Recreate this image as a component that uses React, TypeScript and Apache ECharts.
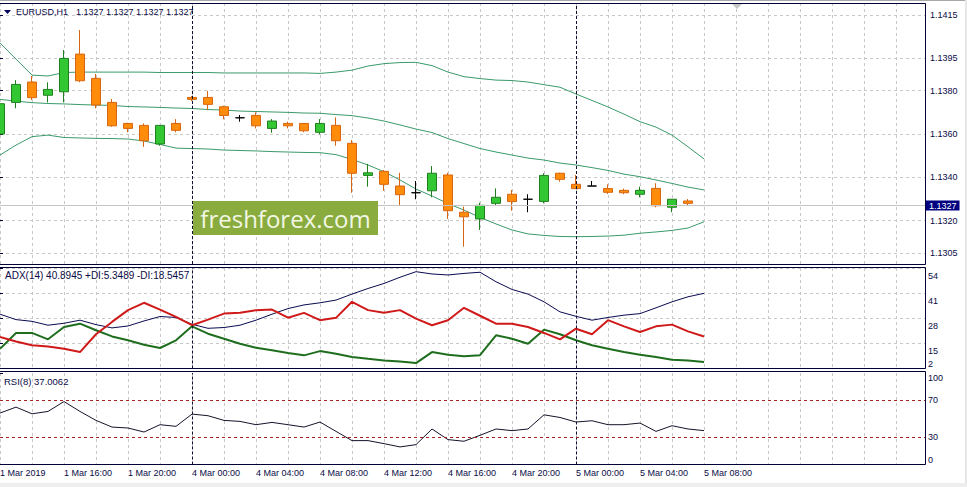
import React, { useEffect, useRef } from 'react';
import * as echarts from 'echarts';

// ---- time axis (one label every 4 hourly bars, bar index = 4 * k) ----
const timeLabels = [
  '1 Mar 2019', '1 Mar 16:00', '1 Mar 20:00', '4 Mar 00:00', '4 Mar 04:00', '4 Mar 08:00',
  '4 Mar 12:00', '4 Mar 16:00', '4 Mar 20:00', '5 Mar 00:00', '5 Mar 04:00', '5 Mar 08:00',
];
const daySeparators = [12, 36];

// ---- EURUSD H1 candles ----
const opens = [
  1.1360, 1.13746, 1.1384, 1.13779, 1.13795, 1.13969, 1.13857, 1.13746, 1.13649, 1.1364,
  1.13554, 1.13649, 1.13769, 1.13769, 1.13726, 1.13675, 1.13686, 1.13626, 1.13649, 1.13649,
  1.13608, 1.1364, 1.13557, 1.13409, 1.13428, 1.1336, 1.13329, 1.13338, 1.13411, 1.13239,
  1.13208, 1.1328, 1.13322, 1.13299, 1.13289, 1.13419, 1.13368, 1.1336, 1.13348, 1.1334,
  1.13322, 1.13349, 1.13262, 1.13291, 1.1327,
];
const closes = [
  1.1374, 1.13829, 1.13768, 1.13806, 1.13949, 1.13846, 1.13734, 1.13638, 1.13626, 1.13569,
  1.1364, 1.13617, 1.1376, 1.13737, 1.13686, 1.13675, 1.13638, 1.1366, 1.13638, 1.13615,
  1.13649, 1.13569, 1.13419, 1.13421, 1.13368, 1.1332, 1.13329, 1.13419, 1.13246, 1.13218,
  1.13271, 1.13308, 1.13288, 1.13299, 1.13409, 1.13391, 1.13348, 1.1336, 1.13331, 1.13329,
  1.1334, 1.13269, 1.13299, 1.1328, 1.1327,
];
const highs = [
  1.1376, 1.13849, 1.13868, 1.13839, 1.13988, 1.1408, 1.13877, 1.13762, 1.13652, 1.13649,
  1.13642, 1.13669, 1.13775, 1.13799, 1.13731, 1.13688, 1.137, 1.13669, 1.13657, 1.13651,
  1.13669, 1.13677, 1.13572, 1.13462, 1.13434, 1.13421, 1.13383, 1.13452, 1.13421, 1.13265,
  1.13283, 1.13349, 1.13342, 1.13322, 1.13419, 1.13422, 1.13411, 1.13383, 1.13368, 1.13348,
  1.13357, 1.13373, 1.133, 1.133, 1.1327,
];
const lows = [
  1.1354, 1.13719, 1.13757, 1.13746, 1.13746, 1.13839, 1.13719, 1.13634, 1.13608, 1.13541,
  1.13546, 1.13608, 1.13752, 1.13711, 1.13668, 1.13657, 1.13626, 1.13606, 1.13626, 1.13608,
  1.13599, 1.13546, 1.13329, 1.13357, 1.13338, 1.13269, 1.13299, 1.13308, 1.13208, 1.1308,
  1.13157, 1.13269, 1.13246, 1.13239, 1.1328, 1.1338, 1.13346, 1.1336, 1.13323, 1.13322,
  1.13308, 1.13262, 1.13239, 1.13269, 1.1327,
];

// ---- Bollinger bands ----
const bbUpper = [
  1.1402, 1.13946, 1.13872, 1.13868, 1.13884, 1.13886, 1.13886, 1.13886, 1.13886, 1.13886,
  1.13884, 1.13884, 1.13884, 1.13884, 1.13882, 1.13882, 1.13882, 1.13882, 1.13882, 1.13882,
  1.1388, 1.13886, 1.13895, 1.13914, 1.13925, 1.1393, 1.13931, 1.13916, 1.13886, 1.13865,
  1.13856, 1.13849, 1.13847, 1.1384, 1.13828, 1.13816, 1.13785, 1.13755, 1.13725, 1.13692,
  1.13657, 1.13632, 1.13595, 1.13541, 1.13485,
];
const bbMiddle = [
  1.1376, 1.13752, 1.13745, 1.13741, 1.13739, 1.13736, 1.13734, 1.13732, 1.13727, 1.13725,
  1.13723, 1.1372, 1.13718, 1.13713, 1.13711, 1.13706, 1.13704, 1.13702, 1.137, 1.13697,
  1.13696, 1.1369, 1.13685, 1.13674, 1.1366, 1.13642, 1.13623, 1.13607, 1.13579, 1.13556,
  1.13533, 1.13517, 1.13503, 1.13489, 1.1348, 1.13466, 1.13457, 1.13445, 1.13432, 1.13415,
  1.13403, 1.13388, 1.13372, 1.13355, 1.13342,
];
const bbLower = [
  1.13503, 1.13549, 1.13588, 1.13595, 1.13584, 1.13582, 1.1358, 1.13579, 1.13577, 1.13568,
  1.13552, 1.13535, 1.13533, 1.13531, 1.13526, 1.13524, 1.13522, 1.13519, 1.13517, 1.13515,
  1.13514, 1.13505, 1.13483, 1.13457, 1.13426, 1.13388, 1.13346, 1.13314, 1.13279, 1.13249,
  1.13215, 1.13185, 1.13157, 1.13139, 1.13132, 1.13127, 1.13126, 1.13127, 1.13129, 1.13133,
  1.13142, 1.13148, 1.13155, 1.13166, 1.13195,
];

// ---- ADX(14) ----
const adx = [
  30.1, 27.3, 26.4, 24.4, 25.4, 27.0, 24.7, 23.0, 24.0, 26.6,
  28.9, 28.4, 24.9, 22.8, 23.2, 24.4, 27.0, 30.1, 33.0, 34.9,
  36.0, 37.4, 40.5, 43.4, 46.0, 49.2, 52.1, 50.9, 50.4, 51.2,
  51.8, 46.9, 42.9, 40.5, 36.5, 31.3, 29.0, 27.0, 28.4, 29.6,
  30.4, 33.4, 36.5, 39.1, 40.8945,
];
const plusDI = [
  12.2, 20.4, 20.4, 17.1, 23.5, 25.2, 21.8, 18.6, 16.6, 14.3,
  12.6, 16.6, 23.8, 20.0, 17.4, 14.8, 12.7, 11.4, 10.0, 8.8,
  11.0, 9.6, 7.9, 7.0, 6.2, 5.6, 4.8, 10.5, 9.1, 8.4,
  8.9, 19.2, 17.4, 14.8, 22.1, 19.7, 16.6, 14.0, 12.2, 10.5,
  9.1, 7.9, 6.5, 6.2, 5.3489,
];
const minusDI = [
  18.3, 16.0, 14.0, 13.4, 12.2, 10.5, 19.7, 26.1, 32.2, 36.0,
  32.5, 28.7, 24.4, 27.3, 30.4, 30.8, 32.2, 32.5, 28.3, 30.8,
  27.0, 28.2, 36.5, 32.2, 30.8, 32.2, 27.8, 24.4, 27.0, 33.4,
  29.3, 25.2, 25.2, 23.5, 20.4, 17.1, 22.6, 19.7, 27.0, 23.8,
  20.9, 23.8, 24.7, 21.2, 18.5457,
];

// ---- RSI(8) ----
const rsi = [
  56.2, 62.7, 55.4, 58.0, 68.8, 58.0, 48.2, 40.9, 39.9, 35.5,
  43.5, 41.7, 55.1, 53.3, 48.2, 47.1, 43.5, 46.0, 43.5, 40.9,
  46.4, 36.2, 26.1, 26.1, 22.8, 19.2, 21.7, 38.8, 27.2, 25.4,
  31.9, 38.8, 37.0, 38.8, 54.3, 51.4, 46.4, 47.8, 43.5, 43.5,
  45.3, 36.2, 42.4, 38.8, 37.0062,
];
const rsiLevels = [70, 30];

// ---- axis ticks ----
const priceTicks = [1.1305, 1.132, 1.134, 1.136, 1.138, 1.1395, 1.1415];
const adxTicks = [2, 15, 28, 41, 54];
const rsiTicks = [0, 30, 70, 100];
const bidPrice = 1.1327;

const NAVY = '#0a0a46';
const FRAME = '#000036';
const GRID = '#c8c8c8';
const FONT = 'Liberation Sans, Arial, sans-serif';
const SEP = { color: '#101030', type: [3, 2] as number[], width: 1 };

export default function App() {
  const ref = useRef<HTMLDivElement>(null);

  useEffect(() => {
    if (!ref.current) return;
    const chart = echarts.init(ref.current, null, { renderer: 'svg' });

    const idx = (arr: number[]) => arr.map((v, i) => [i, v]);
    const candles = opens.map((o, i) => [i, o, closes[i], lows[i], highs[i]]);

    const xBase = (gi: number, withLabels: boolean) => ({
      type: 'value',
      gridIndex: gi,
      min: 0,
      max: 925 / 16,
      interval: 2,
      axisLine: { show: false },
      axisTick: { show: false },
      axisLabel: withLabels
        ? {
            show: true,
            formatter: (v: number) =>
              v % 4 === 0 && v / 4 < timeLabels.length ? timeLabels[v / 4] : '',
            align: 'left',
            margin: 4,
            color: NAVY,
            fontSize: 9,
            fontFamily: FONT,
          }
        : { show: false },
      splitLine: { show: true, lineStyle: { color: GRID, type: [3, 3], width: 1 } },
    });

    const labelBase = { color: NAVY, fontSize: 9, fontFamily: FONT };
    const sepLines = daySeparators.map((d) => ({ xAxis: d, lineStyle: SEP, label: { show: false } }));

    const option: any = {
      animation: false,
      backgroundColor: '#ffffff',
      grid: [
        { left: 0, right: 42, top: 3, height: 261, outerBoundsMode: 'none' },
        { left: 0, right: 42, top: 268, height: 100.5, outerBoundsMode: 'none' },
        { left: 0, right: 42, top: 373, height: 91.5, outerBoundsMode: 'none' },
      ],
      xAxis: [xBase(0, false), xBase(1, false), xBase(2, true)],
      yAxis: [
        {
          type: 'value',
          gridIndex: 0,
          position: 'right',
          min: 1.13,
          max: 1.14205,
          axisLine: { show: false },
          axisTick: { show: true, customValues: priceTicks, length: 3, lineStyle: { color: FRAME } },
          axisLabel: {
            customValues: priceTicks,
            formatter: (v: number) => v.toFixed(4),
            margin: 5,
            ...labelBase,
          },
          splitLine: { show: true, lineStyle: { color: GRID, type: [3, 3], width: 1 } },
        },
        {
          type: 'value',
          gridIndex: 1,
          position: 'right',
          min: 2,
          max: 54,
          axisLine: { show: false },
          axisTick: { show: true, customValues: adxTicks, length: 3, lineStyle: { color: FRAME } },
          axisLabel: {
            customValues: adxTicks,
            margin: 3,
            verticalAlign: 'top',
            verticalAlignMinLabel: 'bottom',
            padding: [3, 0, 0, 0],
            ...labelBase,
          },
          splitLine: { show: true, lineStyle: { color: GRID, type: [3, 3], width: 1 } },
        },
        {
          type: 'value',
          gridIndex: 2,
          position: 'right',
          min: 0,
          max: 100,
          axisLine: { show: false },
          axisTick: { show: true, customValues: rsiTicks, length: 3, lineStyle: { color: FRAME } },
          axisLabel: {
            customValues: rsiTicks,
            margin: 3,
            verticalAlign: 'middle',
            verticalAlignMinLabel: 'bottom',
            verticalAlignMaxLabel: 'top',
            ...labelBase,
          },
          splitLine: { show: false },
        },
      ],
      series: [
        {
          type: 'line',
          xAxisIndex: 0,
          yAxisIndex: 0,
          data: idx(bbUpper),
          symbol: 'none',
          lineStyle: { color: '#3a9a6a', width: 1 },
          z: 1,
          markLine: {
            silent: true,
            precision: 5,
            symbol: ['none', 'none'],
            data: [
              {
                yAxis: bidPrice,
                lineStyle: { color: '#c4c4c4', type: 'solid', width: 1 },
                label: {
                  show: true,
                  position: 'end',
                  distance: 1,
                  formatter: () => bidPrice.toFixed(4),
                  color: '#ffffff',
                  backgroundColor: '#000080',
                  padding: [1, 3, 0, 3],
                  fontSize: 9,
                  fontFamily: FONT,
                },
              },
            ],
          },
        },
        {
          type: 'line',
          xAxisIndex: 0,
          yAxisIndex: 0,
          data: idx(bbMiddle),
          symbol: 'none',
          lineStyle: { color: '#3a9a6a', width: 1 },
          z: 1,
        },
        {
          type: 'line',
          xAxisIndex: 0,
          yAxisIndex: 0,
          data: idx(bbLower),
          symbol: 'none',
          lineStyle: { color: '#3a9a6a', width: 1 },
          z: 1,
        },
        {
          type: 'candlestick',
          xAxisIndex: 0,
          yAxisIndex: 0,
          dimensions: ['idx', 'open', 'close', 'lowest', 'highest'],
          encode: { x: 0, y: [1, 2, 3, 4] },
          data: candles,
          barWidth: 9,
          z: 3,
          itemStyle: {
            color: '#33c833',
            color0: '#ff8c0a',
            borderColor: '#1f7f1f',
            borderColor0: '#d8650f',
            borderColorDoji: '#000000',
            borderWidth: 1,
          },
          markLine: {
            silent: true,
            symbol: ['none', 'none'],
            data: sepLines,
          },
        },
        {
          type: 'line',
          xAxisIndex: 1,
          yAxisIndex: 1,
          data: idx(adx),
          symbol: 'none',
          lineStyle: { color: '#0a0a50', width: 1 },
          markLine: { silent: true, symbol: ['none', 'none'], data: sepLines },
        },
        {
          type: 'line',
          xAxisIndex: 1,
          yAxisIndex: 1,
          data: idx(plusDI),
          symbol: 'none',
          lineStyle: { color: '#1e6e1e', width: 2 },
        },
        {
          type: 'line',
          xAxisIndex: 1,
          yAxisIndex: 1,
          data: idx(minusDI),
          symbol: 'none',
          lineStyle: { color: '#d01a1a', width: 2 },
        },
        {
          type: 'line',
          xAxisIndex: 2,
          yAxisIndex: 2,
          data: idx(rsi),
          symbol: 'none',
          lineStyle: { color: '#14142a', width: 1 },
          markLine: {
            silent: true,
            symbol: ['none', 'none'],
            data: [
              ...sepLines,
              ...rsiLevels.map((l) => ({
                yAxis: l,
                lineStyle: { color: '#a82020', type: [3, 3], width: 1 },
                label: { show: false },
              })),
            ],
          },
        },
      ],
      graphic: [
        // page edges
        { type: 'rect', z: 90, shape: { x: 0, y: 0, width: 967, height: 1 }, style: { fill: '#a8a8a8' } },
        { type: 'rect', z: 90, shape: { x: 965, y: 0, width: 2, height: 487 }, style: { fill: '#e6e6e6' } },
        { type: 'rect', z: 90, shape: { x: 0, y: 483, width: 967, height: 4 }, style: { fill: '#eeeeee' } },
        // panel frames
        { type: 'rect', z: 100, shape: { x: -3, y: 3.5, width: 928.5, height: 261 }, style: { fill: 'none', stroke: FRAME, lineWidth: 1 } },
        { type: 'rect', z: 100, shape: { x: -3, y: 267.5, width: 928.5, height: 101 }, style: { fill: 'none', stroke: FRAME, lineWidth: 1 } },
        { type: 'rect', z: 100, shape: { x: -3, y: 371.5, width: 928.5, height: 93 }, style: { fill: 'none', stroke: FRAME, lineWidth: 1 } },
        // chart shift marker
        { type: 'polygon', z: 100, shape: { points: [[732, 4], [742, 4], [737, 9]] }, style: { fill: '#c8c8c8' } },
        // header
        { type: 'polygon', z: 100, shape: { points: [[4, 10], [11, 10], [7.5, 14]] }, style: { fill: '#000060' } },
        {
          type: 'text', z: 100, x: 16, y: 12,
          style: { text: 'EURUSD,H1', font: '9px ' + FONT, fill: NAVY, verticalAlign: 'middle' },
        },
        {
          type: 'text', z: 100, x: 76, y: 12,
          style: { text: '1.1327 1.1327 1.1327 1.1327', font: '9px ' + FONT, fill: NAVY, verticalAlign: 'middle' },
        },
        {
          type: 'text', z: 100, x: 5, y: 275,
          style: { text: 'ADX(14) 40.8945 +DI:5.3489 -DI:18.5457', font: '10px ' + FONT, fill: NAVY, verticalAlign: 'middle' },
        },
        {
          type: 'text', z: 100, x: 4, y: 381,
          style: { text: 'RSI(8) 37.0062', font: '9.5px ' + FONT, fill: NAVY, verticalAlign: 'middle' },
        },
        // watermark
        { type: 'rect', z: 60, shape: { x: 193, y: 201, width: 185, height: 34 }, style: { fill: '#8aab3e' } },
        {
          type: 'text', z: 61, x: 285.5, y: 218,
          style: {
            text: 'freshforex.com',
            font: '24px Open Sans, sans-serif',
            fill: '#f2f7e4',
            align: 'center',
            verticalAlign: 'middle',
          },
        },
      ],
    };

    chart.setOption(option);
    return () => chart.dispose();
  }, []);

  return (
    <div
      ref={ref}
      style={{ position: 'fixed', left: 0, top: 0, width: 967, height: 487, background: '#ffffff' }}
    />
  );
}
